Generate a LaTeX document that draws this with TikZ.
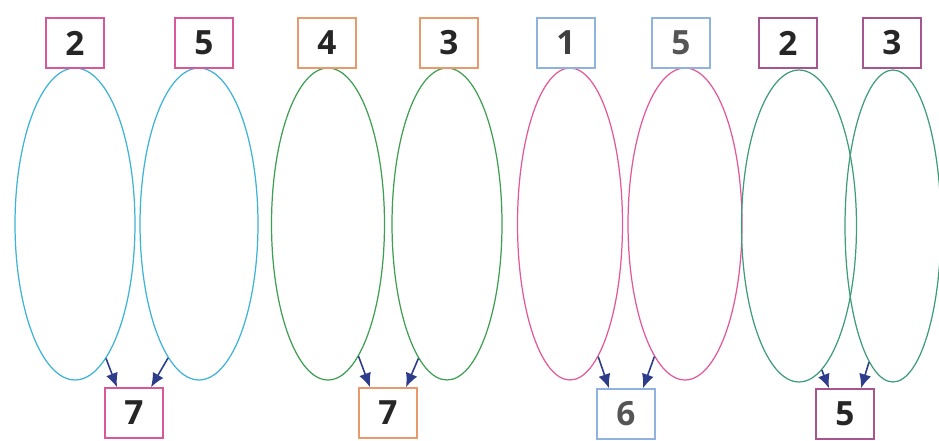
\documentclass[tikz,border=0pt]{standalone}
\usepackage{fontspec}
\setmainfont{Open Sans}
\usepackage{xcolor}
\usepackage{tikz}
\usetikzlibrary{shapes.geometric, positioning, calc, arrows.meta}

\definecolor{cyanline}{HTML}{3DB3D6}
\definecolor{greenline}{HTML}{3E9E52}
\definecolor{pinkline}{HTML}{E2589A}
\definecolor{tealline}{HTML}{3E9C78}
\definecolor{pinkbox}{HTML}{D9589A}
\definecolor{orangebox}{HTML}{E99A6C}
\definecolor{bluebox}{HTML}{8FB3DE}
\definecolor{purplebox}{HTML}{A8558F}
\definecolor{arrowblue}{HTML}{2E3C8C}
\definecolor{digitgray}{HTML}{555555}

\begin{document}
\begin{tikzpicture}[x=0.02cm, y=-0.02cm,
    numbox/.style={draw, fill=white, line width=0.9pt, minimum width=1.16cm,
        minimum height=1.0cm, inner sep=0pt, text=black!85,
        font=\fontsize{19}{19}\selectfont\bfseries},
    oval/.style={ellipse, draw, line width=0.7pt, minimum height=6.24cm, inner sep=0pt},
    link/.style={arrowblue, line width=0.9pt, -{Latex[length=8pt, width=7pt]}}]

    \useasboundingbox (0,0) rectangle (939,440);

    % --- First Pair: 2 and 5 ---
    \node[oval, cyanline, minimum width=2.4cm] (e1) at (75,224) {};
    \node[oval, cyanline, minimum width=2.36cm] (e2) at (199,224) {};
    \node[numbox, draw=pinkbox] (t1) at (75,43) {2};
    \node[numbox, draw=pinkbox] (t2) at (204,43) {5};
    \node[numbox, draw=pinkbox] (b1) at (134,413) {7};
    \draw[link] (e1.-77) -- ($(b1.north)+(-17,0)$);
    \draw[link] (e2.-103) -- ($(b1.north)+(17,0)$);

    % --- Second Pair: 4 and 3 ---
    \node[oval, greenline, minimum width=2.26cm] (e3) at (328,224) {};
    \node[oval, greenline, minimum width=2.2cm] (e4) at (447,224) {};
    \node[numbox, draw=orangebox] (t3) at (327,43) {4};
    \node[numbox, draw=orangebox] (t4) at (449,43) {3};
    \node[numbox, draw=orangebox] (b2) at (388,413) {7};
    \draw[link] (e3.-77) -- ($(b2.north)+(-18,0)$);
    \draw[link] (e4.-102) -- ($(b2.north)+(18,0)$);

    % --- Third Pair: 1 and 5 ---
    \node[oval, pinkline, minimum width=2.1cm] (e5) at (570,224) {};
    \node[oval, pinkline, minimum width=2.28cm] (e6) at (685,224) {};
    \node[numbox, draw=bluebox, text=black!75] (t5) at (566,43) {1};
    \node[numbox, draw=bluebox, text=digitgray] (t6) at (681,43) {5};
    \node[numbox, draw=bluebox, text=digitgray] (b3) at (626,414) {6};
    \draw[link] (e5.-78) -- ($(b3.north)+(-17,0)$);
    \draw[link] (e6.-103) -- ($(b3.north)+(17,0)$);

    % --- Fourth Pair: 2 and 3 ---
    \node[oval, tealline, minimum width=2.3cm] (e7) at (799,226) {};
    \node[oval, tealline, minimum width=1.92cm] (e8) at (893,226) {};
    \node[numbox, draw=purplebox] (t7) at (788,43) {2};
    \node[numbox, draw=purplebox] (t8) at (892,43) {3};
    \node[numbox, draw=purplebox] (b4) at (845,414) {5};
    \draw[link] (e7.-81) -- ($(b4.north)+(-16,0)$);
    \draw[link] (e8.-100) -- ($(b4.north)+(16,0)$);

\end{tikzpicture}
\end{document}
